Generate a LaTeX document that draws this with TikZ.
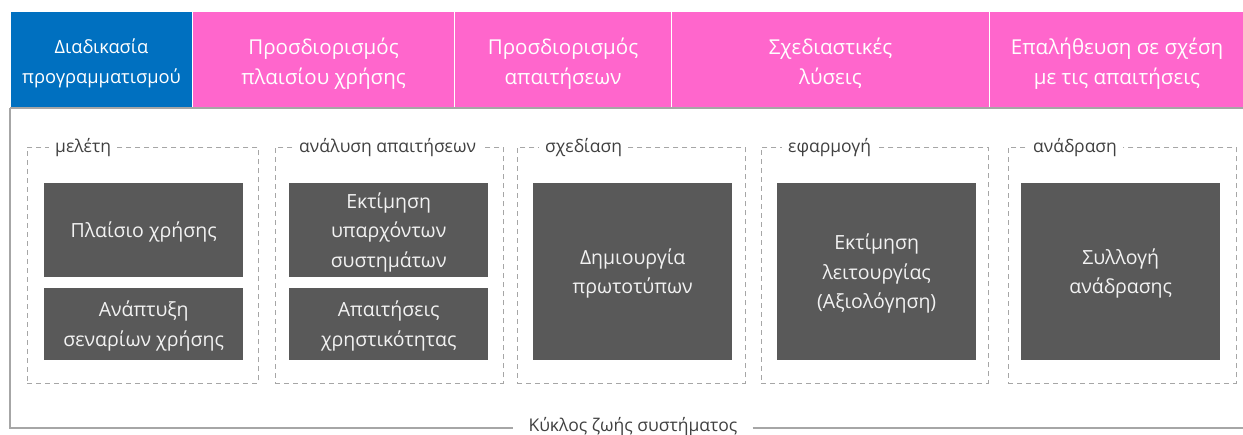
\documentclass[tikz,border=0pt]{standalone}
\usepackage{fontspec}
\setmainfont{Open Sans}
\definecolor{hblue}{HTML}{0070C0}
\definecolor{hpink}{HTML}{FF66CC}
\definecolor{dgray}{HTML}{595959}
\definecolor{lgray}{HTML}{A6A6A6}
\definecolor{tgray}{HTML}{404040}
\tikzset{
  hdr/.style={draw=white, line width=1pt, anchor=north west, minimum height=97pt, inner sep=0pt},
  htxt/.style={text=white, inner sep=0pt, align=center, font=\fontsize{20.5}{30}\selectfont},
  grp/.style={draw=lgray, dashed, dash pattern=on 5pt off 4pt, line width=0.9pt, anchor=north west, inner sep=0pt},
  grplbl/.style={fill=white, text=tgray, anchor=west, inner sep=6pt, font=\fontsize{17.5}{20}\selectfont},
  act/.style={fill=dgray, anchor=north west, inner sep=0pt},
  atxt/.style={text=white!95!black, inner sep=0pt, align=center, font=\fontsize{19.5}{29.5}\selectfont},
  frame/.style={draw=lgray, line width=1.2pt}
}
\begin{document}
\begin{tikzpicture}[x=1pt,y=-1pt]
\useasboundingbox (0,0) rectangle (1243,435);
% header
\node[hdr, fill=hblue, minimum width=182pt] (h1) at (10,11) {};
\node[hdr, fill=hpink, minimum width=262pt] (h2) at (192,11) {};
\node[hdr, fill=hpink, minimum width=217pt] (h3) at (454,11) {};
\node[hdr, fill=hpink, minimum width=318pt] (h4) at (671,11) {};
\node[hdr, fill=hpink, minimum width=255pt] (h5) at (989,11) {};
\node[htxt, font=\fontsize{18.3}{30}\selectfont] (t1) at ([yshift=-3.5pt]h1.center) {Διαδικασία\\προγραμματισμού};
\node[htxt] (t2) at ([yshift=-3.5pt]h2.center) {Προσδιορισμός\\πλαισίου χρήσης};
\node[htxt] (t3) at ([yshift=-3.5pt]h3.center) {Προσδιορισμός\\απαιτήσεων};
\node[htxt] (t4) at ([yshift=-3.5pt]h4.center) {Σχεδιαστικές\\λύσεις};
\node[htxt] (t5) at ([yshift=-3.5pt]h5.center) {Επαλήθευση σε σχέση\\με τις απαιτήσεις};
% frame
\coordinate (ftl) at (10,108);
\coordinate (ftr) at (1243,108);
\coordinate (fbl) at (10,428);
\coordinate (fbr) at (1243,428);
\node[text=tgray, inner xsep=15pt, inner ysep=4pt, font=\fontsize{17.5}{20}\selectfont] (cap) at (633,427) {Κύκλος ζωής συστήματος};
\draw[frame] (ftl) -- (ftr);
\draw[frame] (ftl) -- (fbl) -- (cap.west |- fbl);
\draw[frame] (cap.east |- fbr) -- (fbr);
% groups
\node[grp, minimum width=231pt, minimum height=236pt] (g1) at (27,147) {};
\node[grp, minimum width=228pt, minimum height=236pt] (g2) at (275,147) {};
\node[grp, minimum width=228pt, minimum height=236pt] (g3) at (517,147) {};
\node[grp, minimum width=227pt, minimum height=236pt] (g4) at (761,147) {};
\node[grp, minimum width=228pt, minimum height=236pt] (g5) at (1008,147) {};
\node[grplbl] (l1) at ([xshift=22pt,yshift=-1pt]g1.north west) {μελέτη};
\node[grplbl] (l2) at ([xshift=18pt,yshift=-1pt]g2.north west) {ανάλυση απαιτήσεων};
\node[grplbl] (l3) at ([xshift=22pt,yshift=-1pt]g3.north west) {σχεδίαση};
\node[grplbl] (l4) at ([xshift=21pt,yshift=-1pt]g4.north west) {εφαρμογή};
\node[grplbl] (l5) at ([xshift=19pt,yshift=-1pt]g5.north west) {ανάδραση};
% activities
\node[act, minimum width=199pt, minimum height=94pt] (a1) at (44,183) {};
\node[act, minimum width=199pt, minimum height=72pt] (a2) at (44,288) {};
\node[act, minimum width=199pt, minimum height=94pt] (a3) at (289,183) {};
\node[act, minimum width=199pt, minimum height=72pt] (a4) at (289,288) {};
\node[act, minimum width=199pt, minimum height=177pt] (a5) at (533,183) {};
\node[act, minimum width=199pt, minimum height=177pt] (a6) at (777,183) {};
\node[act, minimum width=199pt, minimum height=177pt] (a7) at (1021,183) {};
\node[atxt] (b1) at ([yshift=-2pt]a1.center) {Πλαίσιο χρήσης};
\node[atxt] (b2) at ([yshift=-2pt]a2.center) {Ανάπτυξη\\σεναρίων χρήσης};
\node[atxt] (b3) at ([yshift=-2pt]a3.center) {Εκτίμηση\\υπαρχόντων\\συστημάτων};
\node[atxt] (b4) at ([yshift=-2pt]a4.center) {Απαιτήσεις\\χρηστικότητας};
\node[atxt] (b5) at ([yshift=-2pt]a5.center) {Δημιουργία\\πρωτοτύπων};
\node[atxt] (b6) at ([yshift=-2pt]a6.center) {Εκτίμηση\\λειτουργίας\\(Αξιολόγηση)};
\node[atxt] (b7) at ([yshift=-2pt]a7.center) {Συλλογή\\ανάδρασης};
\end{tikzpicture}
\end{document}
